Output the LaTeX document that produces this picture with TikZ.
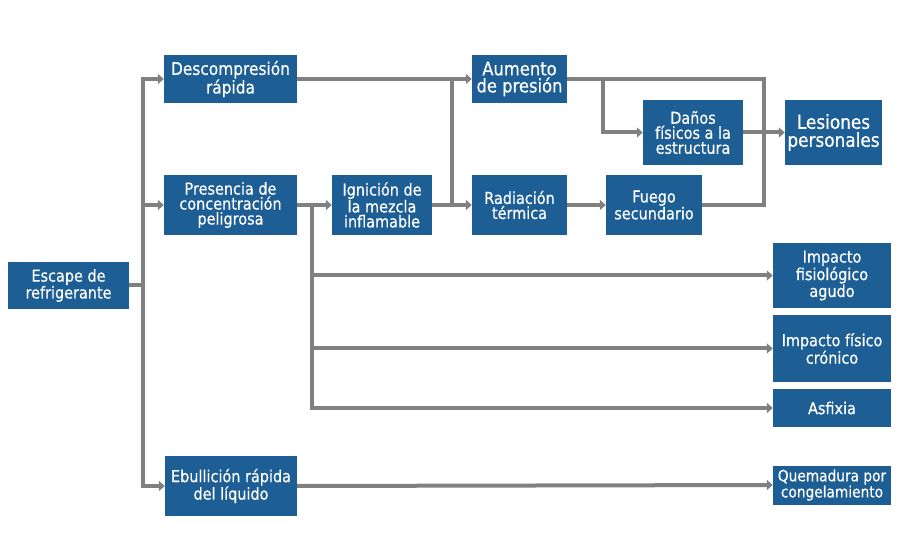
\documentclass[tikz,border=0pt]{standalone}
\usepackage{xcolor}
\usepackage{fontspec}
\setmainfont{DejaVu Sans}[FakeStretch=0.88,FakeBold=0.6]
\usepackage{tikz}
\usetikzlibrary{arrows.meta,calc}

\definecolor{azulcaja}{RGB}{29,94,148}
\definecolor{grislinea}{RGB}{128,128,128}

\begin{document}
\begin{tikzpicture}[x=1pt,y=-1pt,
        caja/.style={fill=azulcaja,text=white,align=center,inner sep=0pt,
            font=\fontsize{16.4}{15}\selectfont},
        linea/.style={draw=grislinea,line width=4pt},
        flecha/.style={linea,-{Triangle[length=6pt,width=10pt]}}]
                \useasboundingbox (0,0) rectangle (902,534);

                % Boxes
                \node[caja,minimum width=121,minimum height=47] (esc) at (68.5,285.5) {Escape de\\refrigerante};
                \node[caja,minimum width=133,minimum height=48,font=\fontsize{17.5}{16}\selectfont] (desc) at (230.5,79) {Descompresión\\rápida};
                \node[caja,minimum width=133,minimum height=60] (pres) at (230.5,205) {Presencia de\\concentración\\peligrosa};
                \node[caja,minimum width=132,minimum height=60] (ebul) at (231,486) {Ebullición rápida\\del líquido};
                \node[caja,minimum width=100,minimum height=60] (ign) at (382,205) {Ignición de\\la mezcla\\inflamable};
                \node[caja,minimum width=95,minimum height=48,font=\fontsize{18.6}{17}\selectfont] (aum) at (519.5,79) {Aumento\\de presión};
                \node[caja,minimum width=95,minimum height=60] (rad) at (519.5,205) {Radiación\\térmica};
                \node[caja,minimum width=96,minimum height=60] (fue) at (654,205) {Fuego\\secundario};
                \node[caja,minimum width=100,minimum height=65] (dan) at (693,132.5) {Daños\\físicos a la\\estructura};
                \node[caja,minimum width=97,minimum height=65,font=\fontsize{19.2}{18}\selectfont] (les) at (833.5,132.5) {Lesiones\\personales};
                \node[caja,minimum width=118,minimum height=65] (fis) at (832,275.5) {Impacto\\fisiológico\\agudo};
                \node[caja,minimum width=118,minimum height=67] (cro) at (832,348.5) {Impacto físico\\crónico};
                \node[caja,minimum width=118,minimum height=38] (asf) at (832,408) {Asfixia};
                \node[caja,minimum width=118,minimum height=39,font=\fontsize{15.6}{14.5}\selectfont] (que) at (832,485) {Quemadura por\\congelamiento};

                % Trunk from the leak
                \foreach \destino in {desc,pres,ebul}{
                    \draw[flecha] (esc.east) -- ++(14,0) |- (\destino.west);
                }
                % Dangerous concentration
                \draw[flecha] (pres.east) -- (ign.west);
                \foreach \destino in {fis,cro,asf}{
                    \draw[flecha] (pres.east) -- ++(15,0) |- (\destino.west);
                }
                \draw[flecha] (ebul.east) -- (que.west);

                % Pressure and radiation
                \coordinate (m1) at ($(ign.east)!.5!(rad.west)$);
                \draw[linea] (m1) -- (m1 |- aum.west);
                \draw[flecha] (desc.east) -- (aum.west);
                \draw[flecha] (ign.east) -- (rad.west);
                \draw[flecha] (rad.east) -- (fue.west);

                % Towards injuries
                \coordinate (m2) at ($(dan.east)!.5!(les.west)$);
                \draw[linea] (aum.east) -| (m2) |- (fue.east);
                \draw[flecha] (aum.east) -- ++(36,0) |- (dan.west);
                \draw[flecha] (dan.east) -- (les.west);
\end{tikzpicture}
\end{document}
